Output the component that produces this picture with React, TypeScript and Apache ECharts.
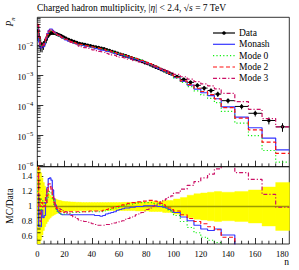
import React, { useEffect, useRef } from 'react';
import * as echarts from 'echarts';

const FONT = 'Liberation Serif';

// Bin edges of the multiplicity histogram (n)
const binEdges = [
  0, 1, 2, 3, 4, 5, 6, 7, 8, 9, 10, 11, 12, 13, 14, 15, 16, 17, 18, 19, 20,
  22, 24, 26, 28, 30, 32, 34, 36, 38, 40, 42, 44, 46, 48, 50, 52, 54, 56, 58, 60,
  62, 64, 66, 68, 70, 72, 74, 76, 78, 80, 82, 84, 86, 88, 90, 92, 94, 96, 98, 100,
  105, 110, 115, 120, 125, 130, 135, 145, 155, 165, 175, 185,
];

// Data P_n per bin
const dataP = [
  3.16e-2, 1.78e-2, 1.12e-2, 9.5e-3, 1.05e-2, 1.26e-2, 1.58e-2, 2.0e-2, 2.34e-2, 2.57e-2,
  2.63e-2, 2.63e-2, 2.57e-2, 2.51e-2, 2.4e-2, 2.29e-2, 2.19e-2, 2.09e-2, 1.95e-2, 1.86e-2,
  1.74e-2, 1.58e-2, 1.45e-2, 1.35e-2, 1.26e-2, 1.17e-2, 1.12e-2, 1.07e-2, 1.02e-2, 9.8e-3,
  9.3e-3, 8.9e-3, 8.5e-3, 8.1e-3, 7.8e-3, 7.2e-3, 6.8e-3, 6.3e-3, 5.9e-3, 5.5e-3,
  5.1e-3, 4.8e-3, 4.5e-3, 4.2e-3, 3.9e-3, 3.6e-3, 3.4e-3, 3.16e-3, 2.95e-3, 2.69e-3,
  2.51e-3, 2.29e-3, 2.09e-3, 1.91e-3, 1.74e-3, 1.58e-3, 1.45e-3, 1.32e-3, 1.2e-3, 1.1e-3,
  9.3e-4, 7.4e-4, 5.9e-4, 4.7e-4, 3.8e-4, 3.16e-4, 2.4e-4,
  1.45e-4, 9.3e-5, 5.5e-5, 3.16e-5, 1.95e-5,
];

// Relative data uncertainty per bin
const dataRelErr = [
  0.55, 0.5, 0.45, 0.38, 0.32, 0.27, 0.23, 0.2, 0.17, 0.15,
  0.13, 0.12, 0.11, 0.1, 0.09, 0.085, 0.08, 0.075, 0.07, 0.067,
  0.065, 0.062, 0.06, 0.058, 0.056, 0.055, 0.053, 0.053, 0.053, 0.053,
  0.053, 0.053, 0.053, 0.053, 0.053, 0.053, 0.053, 0.053, 0.053, 0.053,
  0.053, 0.055, 0.055, 0.055, 0.055, 0.055, 0.06, 0.06, 0.06, 0.06,
  0.06, 0.067, 0.067, 0.067, 0.067, 0.067, 0.08, 0.08, 0.08, 0.08,
  0.1, 0.12, 0.15, 0.17, 0.18, 0.19, 0.2,
  0.19, 0.2, 0.22, 0.26, 0.32,
];

// MC / Data ratios per bin
const ratioMonash = [
  1.15, 0.73, 0.73, 0.95, 0.85, 0.88, 1.05, 1.25, 1.37, 1.38,
  1.35, 1.22, 1.1, 1.02, 0.96, 0.93, 0.91, 0.9, 0.89, 0.89,
  0.89, 0.89, 0.89, 0.89, 0.89, 0.89, 0.89, 0.89, 0.89, 0.89,
  0.89, 0.88, 0.88, 0.87, 0.88, 0.9, 0.91, 0.92, 0.93, 0.95,
  0.96, 0.97, 0.98, 0.98, 0.99, 0.99, 1.0, 1.0, 1.0, 1.01,
  1.01, 1.01, 1.01, 1.01, 1.0, 1.0, 0.99, 0.98, 0.96, 0.94,
  0.92, 0.86, 0.81, 0.75, 0.7, 0.68, 0.7,
  0.62, 0.44, 0.33, 0.26, 0.17,
];
const ratioMode0 = [
  1.2, 1.0, 0.9, 1.1, 1.05, 1.0, 1.05, 1.12, 1.18, 1.2,
  1.18, 1.1, 1.02, 0.97, 0.94, 0.92, 0.91, 0.9, 0.9, 0.9,
  0.91, 0.91, 0.91, 0.92, 0.92, 0.92, 0.93, 0.93, 0.93, 0.93,
  0.93, 0.93, 0.93, 0.93, 0.94, 0.95, 0.96, 0.97, 0.98, 0.99,
  1.0, 1.01, 1.02, 1.03, 1.03, 1.04, 1.04, 1.05, 1.05, 1.05,
  1.05, 1.05, 1.04, 1.04, 1.03, 1.02, 1.0, 0.98, 0.95, 0.92,
  0.88, 0.8, 0.72, 0.65, 0.59, 0.55, 0.52,
  0.44, 0.28, 0.18, 0.1, 0.066,
];
const ratioMode2 = [
  1.6, 1.1, 1.0, 1.05, 1.0, 1.0, 1.05, 1.15, 1.24, 1.26,
  1.22, 1.12, 1.05, 1.0, 0.97, 0.95, 0.94, 0.93, 0.92, 0.92,
  0.93, 0.93, 0.93, 0.93, 0.93, 0.93, 0.93, 0.93, 0.93, 0.94,
  0.94, 0.94, 0.94, 0.94, 0.95, 0.96, 0.97, 0.98, 0.99, 1.0,
  1.01, 1.02, 1.03, 1.04, 1.05, 1.05, 1.06, 1.06, 1.07, 1.07,
  1.08, 1.08, 1.08, 1.07, 1.06, 1.04, 1.02, 1.0, 0.98, 0.96,
  0.94, 0.89, 0.84, 0.8, 0.77, 0.73, 0.69,
  0.59, 0.41, 0.28, 0.19, 0.13,
];
const ratioMode3 = [
  1.4, 0.95, 0.8, 0.95, 1.0, 1.05, 1.15, 1.25, 1.3, 1.3,
  1.25, 1.15, 1.06, 1.0, 0.99, 0.98, 0.97, 0.96, 0.95, 0.94,
  0.93, 0.9, 0.88, 0.86, 0.84, 0.82, 0.81, 0.8, 0.79, 0.78,
  0.77, 0.76, 0.75, 0.75, 0.75, 0.76, 0.76, 0.77, 0.78, 0.79,
  0.8, 0.81, 0.83, 0.84, 0.86, 0.87, 0.89, 0.9, 0.92, 0.94,
  0.96, 0.98, 1.0, 1.02, 1.04, 1.06, 1.08, 1.1, 1.12, 1.14,
  1.18, 1.23, 1.28, 1.33, 1.38, 1.43, 1.5,
  1.75, 1.45, 1.36, 1.16, 0.99,
];

// Tick values
const xMajorTicks = [0, 20, 40, 60, 80, 100, 120, 140, 160, 180];
const xMinorTicks = [5, 10, 15, 25, 30, 35, 45, 50, 55, 65, 70, 75, 85, 90, 95, 105, 110, 115, 125, 130, 135, 145, 150, 155, 165, 170, 175];
const yMainExponents = [-6, -5, -4, -3, -2];
const ratioTicks = [0.6, 0.8, 1, 1.2, 1.4];
const ratioMinorTicks = [0.55, 0.65, 0.7, 0.75, 0.85, 0.9, 0.95, 1.05, 1.1, 1.15, 1.25, 1.3, 1.35, 1.45, 1.5];

const X_MIN = 0, X_MAX = 185;
const Y_MIN = -6.04, Y_MAX = -1.06;
const R_MIN = 0.5, R_MAX = 1.53;

const mcDefs = [
  { name: 'Monash', ratio: ratioMonash, color: '#3535ff', dash: 'solid' as any },
  { name: 'Mode 0', ratio: ratioMode0, color: '#11ee11', dash: [1.2, 2.2] },
  { name: 'Mode 2', ratio: ratioMode2, color: '#ff1010', dash: [4, 2.5] },
  { name: 'Mode 3', ratio: ratioMode3, color: '#cc1166', dash: [4, 2, 1.2, 2] },
];

function stepPoints(vals: number[]) {
  return binEdges.map((e, i) => [e, vals[Math.min(i, vals.length - 1)]]);
}

function buildOption() {
  const logMinor: number[] = [];
  for (let e = -7; e <= -1; e++) {
    for (let k = 2; k <= 9; k++) {
      const v = e + Math.log10(k);
      if (v > Y_MIN && v < Y_MAX) logMinor.push(v);
    }
  }

  const tickStyle = { stroke: '#000', lineWidth: 0.8 };
  const xMinorSeries = (gi: number, ymin: number) => ({
    type: 'custom', xAxisIndex: gi, yAxisIndex: gi, silent: true, z: 5,
    data: xMinorTicks.map((v) => [v, ymin]),
    renderItem: (_p: any, api: any) => {
      const p = api.coord([api.value(0), api.value(1)]);
      return { type: 'line', shape: { x1: p[0], y1: p[1], x2: p[0], y2: p[1] - 3.3 }, style: tickStyle };
    },
  });
  const yMinorSeries = (gi: number, vals: number[]) => ({
    type: 'custom', xAxisIndex: gi, yAxisIndex: gi, silent: true, z: 5,
    data: vals.map((v) => [X_MIN, v]),
    renderItem: (_p: any, api: any) => {
      const p = api.coord([api.value(0), api.value(1)]);
      return { type: 'line', shape: { x1: p[0], y1: p[1], x2: p[0] + 3.3, y2: p[1] }, style: tickStyle };
    },
  });

  const series: any[] = [];

  // Data points with error bars (main panel)
  series.push({
    type: 'custom', xAxisIndex: 0, yAxisIndex: 0, z: 2, clip: true,
    data: dataP.map((p, i) => [
      (binEdges[i] + binEdges[i + 1]) / 2, Math.log10(p), binEdges[i], binEdges[i + 1],
      Math.log10(p * (1 - dataRelErr[i])), Math.log10(p * (1 + dataRelErr[i])),
    ]),
    encode: { x: 0, y: 1 },
    renderItem: (_p: any, api: any) => {
      const c = api.coord([api.value(0), api.value(1)]);
      const l = api.coord([api.value(2), api.value(1)]);
      const r = api.coord([api.value(3), api.value(1)]);
      const lo = api.coord([api.value(0), api.value(4)]);
      const hi = api.coord([api.value(0), api.value(5)]);
      return {
        type: 'group',
        children: [
          { type: 'line', shape: { x1: l[0], y1: c[1], x2: r[0], y2: c[1] }, style: { stroke: '#000', lineWidth: 1 } },
          { type: 'line', shape: { x1: c[0], y1: hi[1], x2: c[0], y2: lo[1] }, style: { stroke: '#000', lineWidth: 1 } },
          { type: 'circle', shape: { cx: c[0], cy: c[1], r: 1.8 }, style: { fill: '#000' } },
        ],
      };
    },
  });

  // MC step lines (main panel)
  mcDefs.forEach((m, k) => {
    const logs = dataP.map((p, i) => Math.log10(p * m.ratio[i]));
    series.push({
      type: 'line', name: m.name, xAxisIndex: 0, yAxisIndex: 0, step: 'end', showSymbol: false,
      clip: true, z: 3 + k * 0.01,
      data: stepPoints(logs),
      lineStyle: { color: m.color, width: 1.2, type: m.dash },
    });
  });

  // Yellow band (ratio panel)
  series.push({
    type: 'custom', xAxisIndex: 1, yAxisIndex: 1, z: 1, clip: true, silent: true,
    data: dataRelErr.map((e, i) => [binEdges[i], binEdges[i + 1], 1 - e, 1 + e]),
    encode: { x: [0, 1], y: [2, 3] },
    renderItem: (_p: any, api: any) => {
      const a = api.coord([api.value(0), api.value(3)]);
      const b = api.coord([api.value(1), api.value(2)]);
      return {
        type: 'rect',
        shape: { x: a[0], y: a[1], width: b[0] - a[0] + 0.3, height: b[1] - a[1] },
        style: { fill: '#ffff00', stroke: '#ffff00', lineWidth: 0.4 },
      };
    },
  });

  // Reference line at 1
  series.push({
    type: 'line', xAxisIndex: 1, yAxisIndex: 1, showSymbol: false, z: 2, silent: true,
    data: [[X_MIN, 1], [X_MAX, 1]],
    lineStyle: { color: '#9c9c00', width: 1.6 },
  });

  // MC ratio step lines
  mcDefs.forEach((m, k) => {
    series.push({
      type: 'line', xAxisIndex: 1, yAxisIndex: 1, step: 'end', showSymbol: false,
      clip: true, z: 3 + k * 0.01,
      data: stepPoints(m.ratio),
      lineStyle: { color: m.color, width: 1.2, type: m.dash },
    });
  });

  series.push(xMinorSeries(0, Y_MIN));
  series.push(xMinorSeries(1, R_MIN));
  series.push(yMinorSeries(0, logMinor));
  series.push(yMinorSeries(1, ratioMinorTicks));

  const axisTick = (vals: number[]) => ({
    show: true, inside: true, length: 6, customValues: vals,
    lineStyle: { color: '#000', width: 0.8 },
  });
  const lbl = { color: '#000', fontFamily: FONT, fontSize: 8.5 };

  // Legend
  const legendX0 = 213, legendX1 = 235, legendTextX = 239;
  const legendYs = [33, 44.3, 55.6, 67, 78.3];
  const legendNames = ['Data', ...mcDefs.map((m) => m.name)];
  const graphic: any[] = [];
  legendNames.forEach((name, i) => {
    const y = legendYs[i];
    if (i === 0) {
      graphic.push({ type: 'line', shape: { x1: legendX0, y1: y, x2: legendX1, y2: y }, style: { stroke: '#000', lineWidth: 1.2 } });
      graphic.push({ type: 'circle', shape: { cx: (legendX0 + legendX1) / 2, cy: y, r: 1.8 }, style: { fill: '#000' } });
    } else {
      const m = mcDefs[i - 1];
      graphic.push({
        type: 'line', shape: { x1: legendX0, y1: y, x2: legendX1, y2: y },
        style: { stroke: m.color, lineWidth: 1.2, lineDash: m.dash === 'solid' ? null : m.dash },
      });
    }
    graphic.push({
      type: 'text', x: legendTextX, y,
      style: { text: name, fill: '#000', font: `9.5px "${FONT}"`, textAlign: 'left', textVerticalAlign: 'middle' },
    });
  });

  // Title
  graphic.push({
    type: 'text', x: 37, y: 8,
    style: {
      text: 'Charged hadron multiplicity, |{i|η}| < 2.4, √{i|s} = 7 TeV',
      fill: '#000', fontFamily: FONT, fontSize: 9.5, align: 'left', verticalAlign: 'middle',
      rich: { i: { fontStyle: 'italic', fontFamily: FONT, fontSize: 9.5, fill: '#000' } },
    },
  });
  // Axis titles
  graphic.push({
    type: 'text', x: 10, y: 17.5, rotation: Math.PI / 2,
    style: {
      text: '{p|P}{s|n}', fill: '#000', align: 'right', verticalAlign: 'middle',
      rich: {
        p: { fontStyle: 'italic', fontFamily: FONT, fontSize: 9.5, fill: '#000' },
        s: { fontStyle: 'italic', fontFamily: FONT, fontSize: 6.5, fill: '#000', verticalAlign: 'bottom', padding: [4, 0, 0, 0] },
      },
    },
  });
  graphic.push({
    type: 'text', x: 10, y: 206, rotation: Math.PI / 2,
    style: { text: 'MC/Data', fill: '#000', fontFamily: FONT, fontSize: 9.5, align: 'center', verticalAlign: 'middle' },
  });
  graphic.push({
    type: 'text', x: 289, y: 262,
    style: { text: 'n', fill: '#000', fontFamily: FONT, fontSize: 9.5, align: 'right', verticalAlign: 'middle' },
  });

  return {
    animation: false,
    backgroundColor: '#fff',
    grid: [
      { left: 37.3, top: 17.3, width: 252, height: 149.4, show: true, borderColor: '#000', borderWidth: 0.8, backgroundColor: 'transparent', containLabel: false },
      { left: 37.3, top: 166.7, width: 252, height: 77.3, show: true, borderColor: '#000', borderWidth: 0.8, backgroundColor: 'transparent', containLabel: false },
    ],
    xAxis: [
      {
        type: 'value', gridIndex: 0, min: X_MIN, max: X_MAX,
        axisLine: { show: false }, splitLine: { show: false },
        axisTick: axisTick(xMajorTicks), axisLabel: { show: false },
      },
      {
        type: 'value', gridIndex: 1, min: X_MIN, max: X_MAX,
        axisLine: { show: false }, splitLine: { show: false },
        axisTick: axisTick(xMajorTicks),
        axisLabel: { ...lbl, customValues: xMajorTicks, margin: 5 },
      },
    ],
    yAxis: [
      {
        type: 'value', gridIndex: 0, min: Y_MIN, max: Y_MAX,
        axisLine: { show: false }, splitLine: { show: false },
        axisTick: axisTick(yMainExponents),
        axisLabel: {
          color: '#000', customValues: yMainExponents, margin: 4,
          formatter: (v: number) => '{b|10}{s|−' + String(Math.abs(Math.round(v))) + '}',
          rich: {
            b: { fontFamily: FONT, fontSize: 8.5, color: '#000', lineHeight: 11, verticalAlign: 'bottom' },
            s: { fontFamily: FONT, fontSize: 6.5, color: '#000', lineHeight: 8, verticalAlign: 'bottom', padding: [0, 0, 4, 0.5] },
          },
        },
      },
      {
        type: 'value', gridIndex: 1, min: R_MIN, max: R_MAX,
        axisLine: { show: false }, splitLine: { show: false },
        axisTick: axisTick(ratioTicks),
        axisLabel: { ...lbl, customValues: ratioTicks, margin: 5, formatter: (v: number) => String(v) },
      },
    ],
    series,
    graphic,
  };
}

export default function App() {
  const ref = useRef<HTMLDivElement>(null);
  useEffect(() => {
    if (!ref.current) return;
    const chart = echarts.init(ref.current, undefined, { renderer: 'svg' });
    chart.setOption(buildOption() as any);
    return () => chart.dispose();
  }, []);
  return (
    <div
      ref={ref}
      style={{ position: 'absolute', left: 0, top: 0, width: 299, height: 270, background: '#fff' }}
    />
  );
}
